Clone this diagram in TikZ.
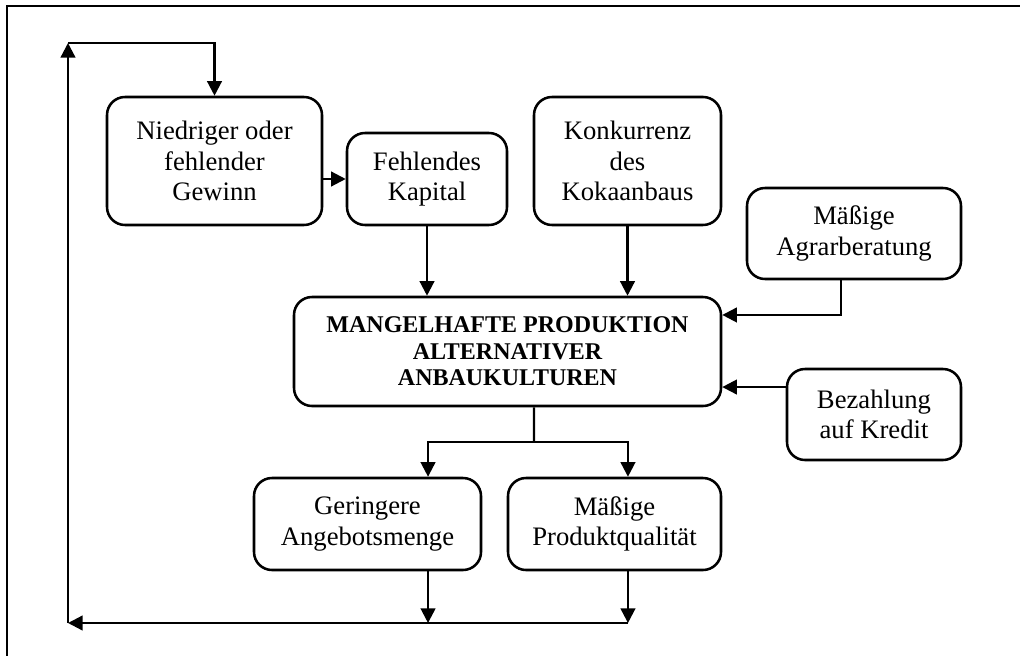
\documentclass[tikz,border=0pt]{standalone}
\usepackage{fontspec}
\setmainfont{Liberation Serif}
\usetikzlibrary{arrows.meta}
\begin{document}
\begin{tikzpicture}[x=0.75pt,y=-0.75pt,
  box/.style={draw,line width=1.9pt,rounded corners=13.5pt,inner sep=0pt,
    align=center,font=\fontsize{20pt}{23pt}\selectfont},
  mainbox/.style={box,font=\fontsize{18pt}{19.8pt}\selectfont\bfseries},
  conn/.style={line width=1.7pt},
  arr/.style={conn,-{Triangle[length=11pt,width=11pt]}}]
\useasboundingbox (0,0) rectangle (1020,656);
% outer frame
\draw[line width=2.2pt] (7,660) -- (7,6) -- (1025,6);

% causes
\node[box,minimum width=161.25pt,minimum height=96pt] (nied) at (214.5,161)
  {Niedriger oder\\fehlender\\Gewinn};
\node[box,minimum width=120pt,minimum height=69pt] (kap) at (427,179)
  {Fehlendes\\Kapital};
\node[box,minimum width=140.25pt,minimum height=96pt] (konk) at (627.5,161)
  {Konkurrenz\\des\\Kokaanbaus};
\node[box,minimum width=160.5pt,minimum height=68.25pt] (agrar) at (854,233.5)
  {Mäßige\\Agrarberatung};
\node[box,minimum width=130.5pt,minimum height=68.25pt] (bez) at (874,414.5)
  {Bezahlung\\auf Kredit};

% central problem
\node[mainbox,minimum width=320.25pt,minimum height=81.75pt] (main) at (507.5,351.5)
  {MANGELHAFTE PRODUKTION\\ALTERNATIVER\\ANBAUKULTUREN};

% effects
\node[box,minimum width=170.25pt,minimum height=69pt] (ger) at (367.5,524)
  {Geringere\\Angebotsmenge};
\node[box,minimum width=159.75pt,minimum height=69pt] (qual) at (614.5,524)
  {Mäßige\\Produktqualität};

% junction points
\coordinate (split) at (534,442);
\coordinate (botR) at (628,623);
\coordinate (botL) at (68,623);
\coordinate (topL) at (68,43);

% connectors into the central box
\draw[arr] (kap.west -| nied.east) -- (kap.west);
\draw[arr] (kap.south) -- (kap.south |- main.north);
\draw[arr] (konk.south) -- (konk.south |- main.north);
\draw[arr] ([xshift=-9.75pt]agrar.south) |- ([yshift=27.4pt]main.east);
\draw[arr] ([yshift=20.6pt]bez.west) -- ([yshift=20.6pt]bez.west -| main.east);

% connectors out of the central box
\draw[conn] ([xshift=19.9pt]main.south) -- (split);
\draw[arr] (split) -| ([xshift=45.4pt]ger.north);
\draw[arr] (split) -| ([xshift=10.1pt]qual.north);
\draw[arr] ([xshift=45.4pt]ger.south) -- ([xshift=45.4pt]ger.south |- botR);
\draw[arr] ([xshift=10.1pt]qual.south) -- ([xshift=10.1pt]qual.south |- botR);

% feedback loop
\draw[arr] (botR) -- (botL);
\draw[arr] (botL) -- (topL);
\draw[arr] (topL) -| (nied.north);
\end{tikzpicture}
\end{document}
